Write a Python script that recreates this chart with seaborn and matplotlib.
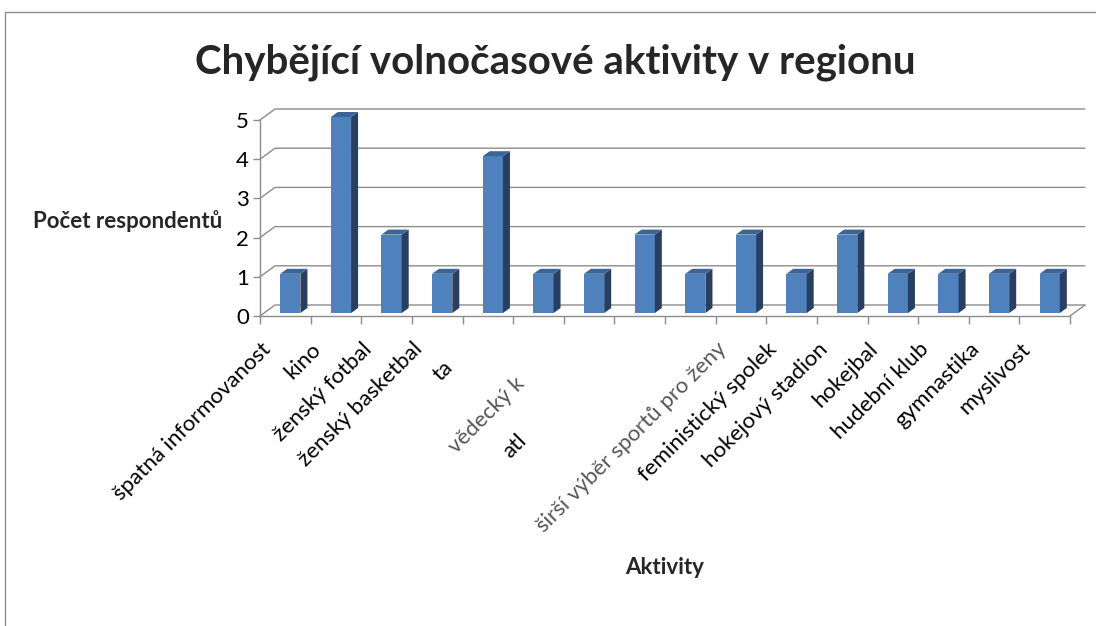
import numpy as np
import pandas as pd
import matplotlib.pyplot as plt
import seaborn as sns
from matplotlib.patches import Polygon
from matplotlib.lines import Line2D
from matplotlib.transforms import ScaledTranslation, IdentityTransform

# Data

aktivity = ['špatná informovanost', 'kino', 'ženský fotbal', 'ženský basketbal', 'ta',
            ' ', 'vědecký k', 'atl', '  ', 'širší výběr sportů pro ženy',
            'feministický spolek', 'hokejový stadion', 'hokejbal', 'hudební klub',
            'gymnastika', 'myslivost']
pocet = [1, 5, 2, 1, 4, 1, 1, 2, 1, 2, 1, 2, 1, 1, 1, 1]
osa_y = [0, 1, 2, 3, 4, 5]

# labels that show up cut off / shifted in the original
posunute = {'ta': (-20, -18), 'vědecký k': (-50, -34), 'atl': (-98, -92)}
seda_text = ['vědecký k', 'širší výběr sportů pro ženy']

df = pd.DataFrame({'Aktivita': aktivity, 'Pocet': pocet})

sns.set_theme(style='white')
plt.rcParams['font.family'] = ['Lato', 'DejaVu Sans']

W, H = 1096, 626
fig = plt.figure(figsize=(W / 100, H / 100), dpi=100)
ax = fig.add_axes([260 / W, (H - 316) / H, 810 / W, 196 / H])

front = '#4F81BD'
side = '#283F61'
top = '#3C6498'
grid = '#8C8C8C'

sns.barplot(data=df, x='Aktivita', y='Pocet', color=front, width=0.4,
            saturation=1, ax=ax, zorder=3)
ax.set_xlim(-0.5, len(aktivity) - 0.5)
ax.set_ylim(0, 5)
ax.set_yticks(osa_y)
ax.set_yticklabels([str(v) for v in osa_y], fontsize=16, color='black')
ax.set_xticks([])
ax.set_xticks(np.arange(len(aktivity) + 1) - 0.5, minor=True)
ax.tick_params(axis='x', which='minor', length=6, width=1, color=grid, direction='out', bottom=True)
ax.tick_params(axis='y', length=5, width=1, color=grid, direction='out', left=True, pad=3)
ax.set_xlabel('')
ax.set_ylabel('')
for s in ['top', 'right']:
    ax.spines[s].set_visible(False)
for s in ['left', 'bottom']:
    ax.spines[s].set_color(grid)
    ax.spines[s].set_linewidth(1)
ax.patch.set_alpha(0)

fig.canvas.draw()
td = ax.transData
ident = IdentityTransform()

# back wall gridlines (3D look)
hx, hy = 15, 11
for v in osa_y:
    x0, y0 = td.transform((-0.5, v))
    x1, y1 = td.transform((len(aktivity) - 0.5, v))
    ax.add_line(Line2D([x0, x0 + hx, x1 + hx], [y0, y0 + hy, y1 + hy], color=grid,
                       lw=1, transform=ident, clip_on=False, zorder=1))
x1, y1 = td.transform((len(aktivity) - 0.5, 0))
ax.add_line(Line2D([x1, x1 + hx], [y1, y1 + hy], color=grid, lw=1,
                   transform=ident, clip_on=False, zorder=1))

# bars: shift front face into depth, add side and top
bx, by = 5, 3
dx, dy = 7, 5
posun = ScaledTranslation(bx / 100, by / 100, fig.dpi_scale_trans)
for p in ax.patches:
    p.set_transform(td + posun)
    p.set_edgecolor('none')
    p.set_clip_on(False)
    xl, yb = td.transform((p.get_x(), 0))
    xr, yt = td.transform((p.get_x() + p.get_width(), p.get_height()))
    xl, xr, yb, yt = xl + bx, xr + bx, yb + by, yt + by
    ax.add_patch(Polygon([(xr, yb), (xr + dx, yb + dy), (xr + dx, yt + dy), (xr, yt)],
                         closed=True, fc=side, ec='none', transform=ident,
                         clip_on=False, zorder=3))
    ax.add_patch(Polygon([(xl, yt), (xr, yt), (xr + dx, yt + dy), (xl + dx, yt + dy)],
                         closed=True, fc=top, ec='none', transform=ident,
                         clip_on=False, zorder=3))

# category labels
for i, nazev in enumerate(aktivity):
    ox, oy = posunute.get(nazev, (0, 0))
    tr = ax.get_xaxis_transform() + ScaledTranslation((-18 + ox) / 100, (-30 + oy) / 100,
                                                      fig.dpi_scale_trans)
    ax.text(i, 0, nazev, transform=tr, rotation=45, rotation_mode='anchor',
            ha='right', va='center', fontsize=16,
            color='#555555' if nazev in seda_text else 'black')

fig.text(555 / W, 1 - 62 / H, 'Chybějící volnočasové aktivity v regionu',
         ha='center', va='center', fontsize=29, fontweight='bold')
fig.text(128 / W, 1 - 221 / H, 'Počet respondentů', ha='center', va='center',
         fontsize=16, fontweight='bold')
fig.text(665 / W, 1 - 567 / H, 'Aktivity', ha='center', va='center',
         fontsize=16, fontweight='bold')

# chart frame (only top and left edge visible)
fig.add_artist(Line2D([5 / W, 5 / W, 1], [0, 1 - 12 / H, 1 - 12 / H],
                      transform=fig.transFigure, color='#8C8C8C', lw=1))

fig.savefig('out.png', dpi=100, facecolor='white')
